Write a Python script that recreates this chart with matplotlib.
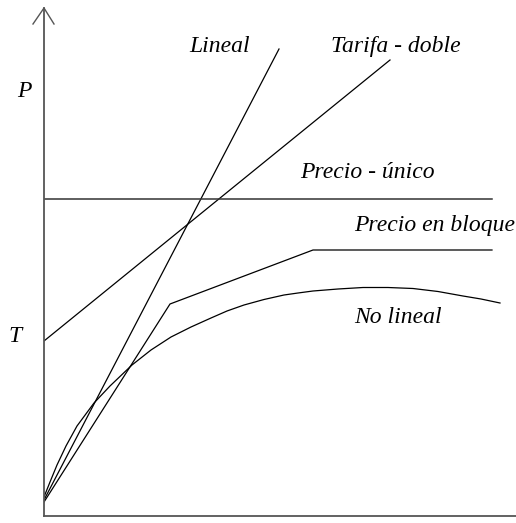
import matplotlib.pyplot as plt

# Curvas de tarifas (unidades arbitrarias del esquema)
lineal_x = [0, 235]
lineal_y = [16, 467]

tarifa_x = [0, 346]
tarifa_y = [175, 456]

unico_x = [0, 448]
unico_y = [317, 317]

bloque_x = [0, 126, 269, 448]
bloque_y = [14, 212, 266, 266]

nolineal_x = [0, 6, 13, 22, 33, 50, 66, 88, 107, 127, 147, 167, 183, 200, 220, 240,
              254, 269, 294, 319, 344, 369, 394, 419, 437, 456]
nolineal_y = [19, 34, 51, 70, 90, 113, 130, 151, 166, 179, 189, 198, 205, 211, 216.5, 221,
              223, 225, 227, 228.5, 228.5, 227.5, 224.5, 220, 217, 213]

etiquetas = ['Lineal', 'Tarifa - doble', 'Precio - único', 'Precio en bloque', 'No lineal']
etiqueta_pos = [(145, 464), (287, 464), (256, 338), (310, 285), (310, 193)]

plt.rcParams['font.family'] = ['Liberation Serif', 'DejaVu Serif']

fig = plt.figure(figsize=(5.16, 5.23), dpi=100)
ax = fig.add_axes([44 / 516, 7 / 523, 472 / 516, 508 / 523])
ax.set_xlim(0, 472)
ax.set_ylim(0, 508)

for s in ['top', 'right']:
    ax.spines[s].set_visible(False)
for s in ['left', 'bottom']:
    ax.spines[s].set_color('#555555')
    ax.spines[s].set_linewidth(1.3)
ax.set_xticks([])
ax.set_yticks([])

lw = 0.9
ax.plot(lineal_x, lineal_y, color='black', lw=lw)
ax.plot(tarifa_x, tarifa_y, color='black', lw=lw)
ax.plot(unico_x, unico_y, color='#333333', lw=1.1)
ax.plot(bloque_x, bloque_y, color='black', lw=lw)
ax.plot(nolineal_x, nolineal_y, color='black', lw=lw, solid_joinstyle='round')

# flecha abierta del eje vertical
ax.plot([-11, 0, 10], [492, 508, 492], color='#555555', lw=1.0, clip_on=False)

for txt, (x, y) in zip(etiquetas, etiqueta_pos):
    ax.text(x, y, txt, fontsize=17, style='italic', va='baseline', ha='left')

ax.text(-27, 419, 'P', fontsize=17, style='italic', va='baseline', clip_on=False)
ax.text(-36, 174, 'T', fontsize=17, style='italic', va='baseline', clip_on=False)

fig.savefig('out.png', dpi=100, facecolor='white')
